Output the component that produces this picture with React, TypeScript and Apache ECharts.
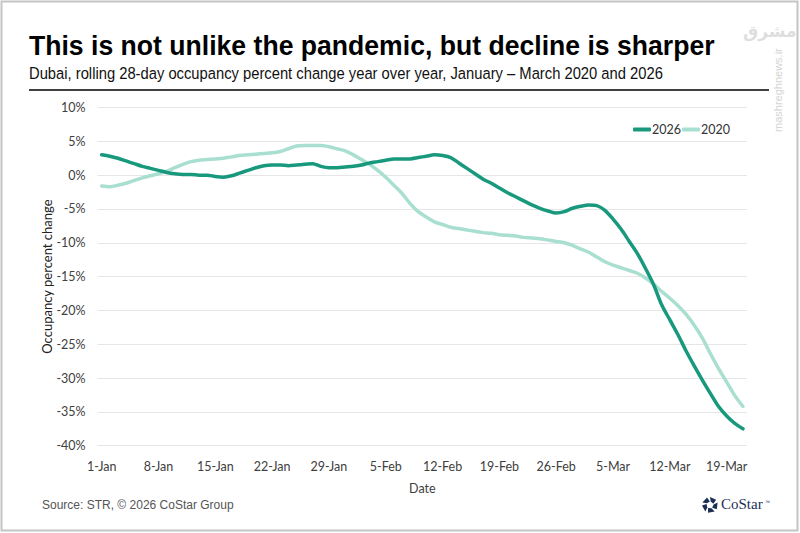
import React, { useEffect, useRef } from "react";
import * as echarts from "echarts";

// Day labels, 1-Jan through 21-Mar
const months: [string, number][] = [["Jan", 31], ["Feb", 28], ["Mar", 21]];
const dates: string[] = [];
months.forEach(([m, n]) => {
  for (let d = 1; d <= n; d++) dates.push(`${d}-${m}`);
});

// Rolling 28-day occupancy % change YoY
const occ2026 = [
  3.0, 2.8, 2.5, 2.1, 1.7, 1.3, 1.0, 0.7, 0.4, 0.2,
  0.1, 0.1, 0.0, 0.0, -0.2, -0.3, -0.1, 0.3, 0.7, 1.1,
  1.4, 1.5, 1.5, 1.4, 1.5, 1.6, 1.7, 1.3, 1.1, 1.1,
  1.2, 1.3, 1.5, 1.8, 2.0, 2.2, 2.4, 2.4, 2.4, 2.6,
  2.8, 3.0, 2.9, 2.6, 1.8, 1.0, 0.2, -0.6, -1.2, -1.9,
  -2.6, -3.2, -3.8, -4.4, -4.9, -5.3, -5.6, -5.4, -4.9, -4.6,
  -4.4, -4.5, -5.2, -6.5, -8.0, -9.8, -11.6, -13.8, -16.2, -19.2,
  -21.4, -23.6, -26.0, -28.2, -30.3, -32.3, -34.2, -35.6, -36.7, -37.5,
];

const occ2020 = [
  -1.6, -1.7, -1.5, -1.2, -0.8, -0.4, -0.1, 0.2, 0.6, 1.1,
  1.6, 2.0, 2.2, 2.3, 2.4, 2.5, 2.7, 2.9, 3.0, 3.1,
  3.2, 3.3, 3.5, 3.9, 4.3, 4.4, 4.4, 4.4, 4.2, 3.9,
  3.6, 3.0, 2.3, 1.6, 0.7, -0.3, -1.5, -2.7, -4.2, -5.4,
  -6.2, -6.9, -7.3, -7.7, -7.9, -8.1, -8.3, -8.5, -8.6, -8.8,
  -8.9, -9.0, -9.2, -9.3, -9.4, -9.6, -9.8, -10.0, -10.4, -10.9,
  -11.4, -12.1, -12.8, -13.3, -13.7, -14.1, -14.5, -15.2, -16.1, -17.2,
  -18.2, -19.3, -20.6, -22.2, -24.1, -26.4, -28.6, -30.6, -32.6, -34.2,
];

const DARK = "#18997d";
const LIGHT = "#a8dfd0";
const AXIS_FONT = "Lato, 'Open Sans', sans-serif";

// CoStar mark: five slanted blocks arranged in a ring
function costarMark(cx: number, cy: number, r: number) {
  const parts: any[] = [];
  for (let i = 0; i < 5; i++) {
    const a0 = (i * 72 - 90) * (Math.PI / 180);
    const a1 = a0 + 50 * (Math.PI / 180);
    const ri = r * 0.45;
    const p = (rad: number, a: number) => [cx + rad * Math.cos(a), cy + rad * Math.sin(a)];
    parts.push({
      type: "polygon",
      shape: { points: [p(r, a0), p(r, a1), p(ri, a1 + 0.35), p(ri, a0 + 0.2)] },
      style: { fill: "#1c2f57" },
    });
  }
  return parts;
}

export default function App() {
  const ref = useRef<HTMLDivElement>(null);

  useEffect(() => {
    if (!ref.current) return;
    const chart = echarts.init(ref.current, undefined, { renderer: "svg" });
    chart.setOption({
      animation: false,
      backgroundColor: "#ffffff",
      grid: { left: 97.6, right: 53, top: 107.5, bottom: 87.3 },
      legend: {
        left: 628,
        top: 118,
        itemWidth: 18,
        itemHeight: 4,
        itemGap: 1,
        icon: "roundRect",
        textStyle: { fontFamily: AXIS_FONT, fontSize: 12.5, color: "#333", padding: [0, 0, 0, -4] },
        data: ["2026", "2020"],
      },
      xAxis: {
        type: "category",
        data: dates,
        boundaryGap: true,
        name: "Date",
        nameLocation: "middle",
        nameGap: 36,
        nameTextStyle: { fontFamily: AXIS_FONT, fontSize: 12.5, color: "#404040" },
        axisLine: { show: false },
        axisTick: { show: false },
        axisLabel: {
          interval: 6,
          margin: 14,
          fontFamily: AXIS_FONT,
          fontSize: 12.5,
          color: "#404040",
        },
        splitLine: { show: false },
      },
      yAxis: {
        type: "value",
        min: -40,
        max: 10,
        interval: 5,
        name: "Occupancy percent change",
        nameLocation: "middle",
        nameGap: 44,
        nameMoveOverlap: false,
        nameTextStyle: { fontFamily: AXIS_FONT, fontSize: 13, color: "#222" },
        axisLine: { show: false },
        axisTick: { show: false },
        axisLabel: {
          formatter: "{value}%",
          margin: 12,
          fontFamily: AXIS_FONT,
          fontSize: 12.5,
          color: "#404040",
        },
        splitLine: { lineStyle: { color: "#e6e6e6", width: 1 } },
      },
      series: [
        {
          name: "2026",
          type: "line",
          data: occ2026,
          smooth: 0.3,
          showSymbol: false,
          z: 3,
          itemStyle: { color: DARK },
          lineStyle: { color: DARK, width: 3.5, cap: "round" },
        },
        {
          name: "2020",
          type: "line",
          data: occ2020,
          smooth: 0.3,
          showSymbol: false,
          z: 2,
          itemStyle: { color: LIGHT },
          lineStyle: { color: LIGHT, width: 3.5, cap: "round" },
        },
      ],
      graphic: [
        {
          type: "rect",
          shape: { x: 1.5, y: 1.5, width: 796, height: 529 },
          style: { fill: "none", stroke: "#c4c4c4", lineWidth: 2 },
          silent: true,
        },
        {
          type: "text",
          x: 29,
          y: 31,
          scaleX: 0.95,
          style: {
            text: "This is not unlike the pandemic, but decline is sharper",
            font: "bold 28px 'Liberation Sans', Arial, sans-serif",
            fill: "#000",
          },
        },
        {
          type: "text",
          x: 29,
          y: 65,
          scaleX: 0.895,
          style: {
            text: "Dubai, rolling 28-day occupancy percent change year over year, January \u2013 March 2020 and 2026",
            font: "16.5px 'Liberation Sans', Arial, sans-serif",
            fill: "#111",
          },
        },
        {
          type: "line",
          shape: { x1: 29, y1: 90, x2: 769, y2: 90 },
          style: { stroke: "#000", lineWidth: 1.5 },
        },
        {
          type: "text",
          left: 42,
          top: 499,
          style: {
            text: "Source: STR, \u00a9 2026 CoStar Group",
            font: "12px 'Liberation Sans', Arial, sans-serif",
            fill: "#555",
          },
        },
        ...costarMark(710, 505, 8),
        {
          type: "text",
          left: 721,
          top: 496,
          style: {
            text: "CoStar",
            font: "15px 'Liberation Serif', 'DejaVu Serif', serif",
            fill: "#1c2f57",
          },
        },
        {
          type: "text",
          left: 765,
          top: 499,
          style: { text: "\u2122", font: "5px 'Liberation Sans', sans-serif", fill: "#1c2f57" },
        },
        {
          type: "text",
          x: 778,
          y: 132,
          rotation: Math.PI / 2,
          style: {
            text: "mashreghnews.ir",
            font: "11px 'Liberation Sans', sans-serif",
            fill: "#d4d4d4",
            textVerticalAlign: "middle",
          },
        },
        {
          type: "text",
          left: 743,
          top: 22,
          style: {
            text: "\u0645\u0634\u0631\u0642",
            font: "bold 17px 'DejaVu Sans', sans-serif",
            fill: "#dedede",
          },
        },
      ],
    });
    return () => chart.dispose();
  }, []);

  return (
    <div
      ref={ref}
      style={{ position: "fixed", left: 0, top: 0, width: 800, height: 533 }}
    />
  );
}
